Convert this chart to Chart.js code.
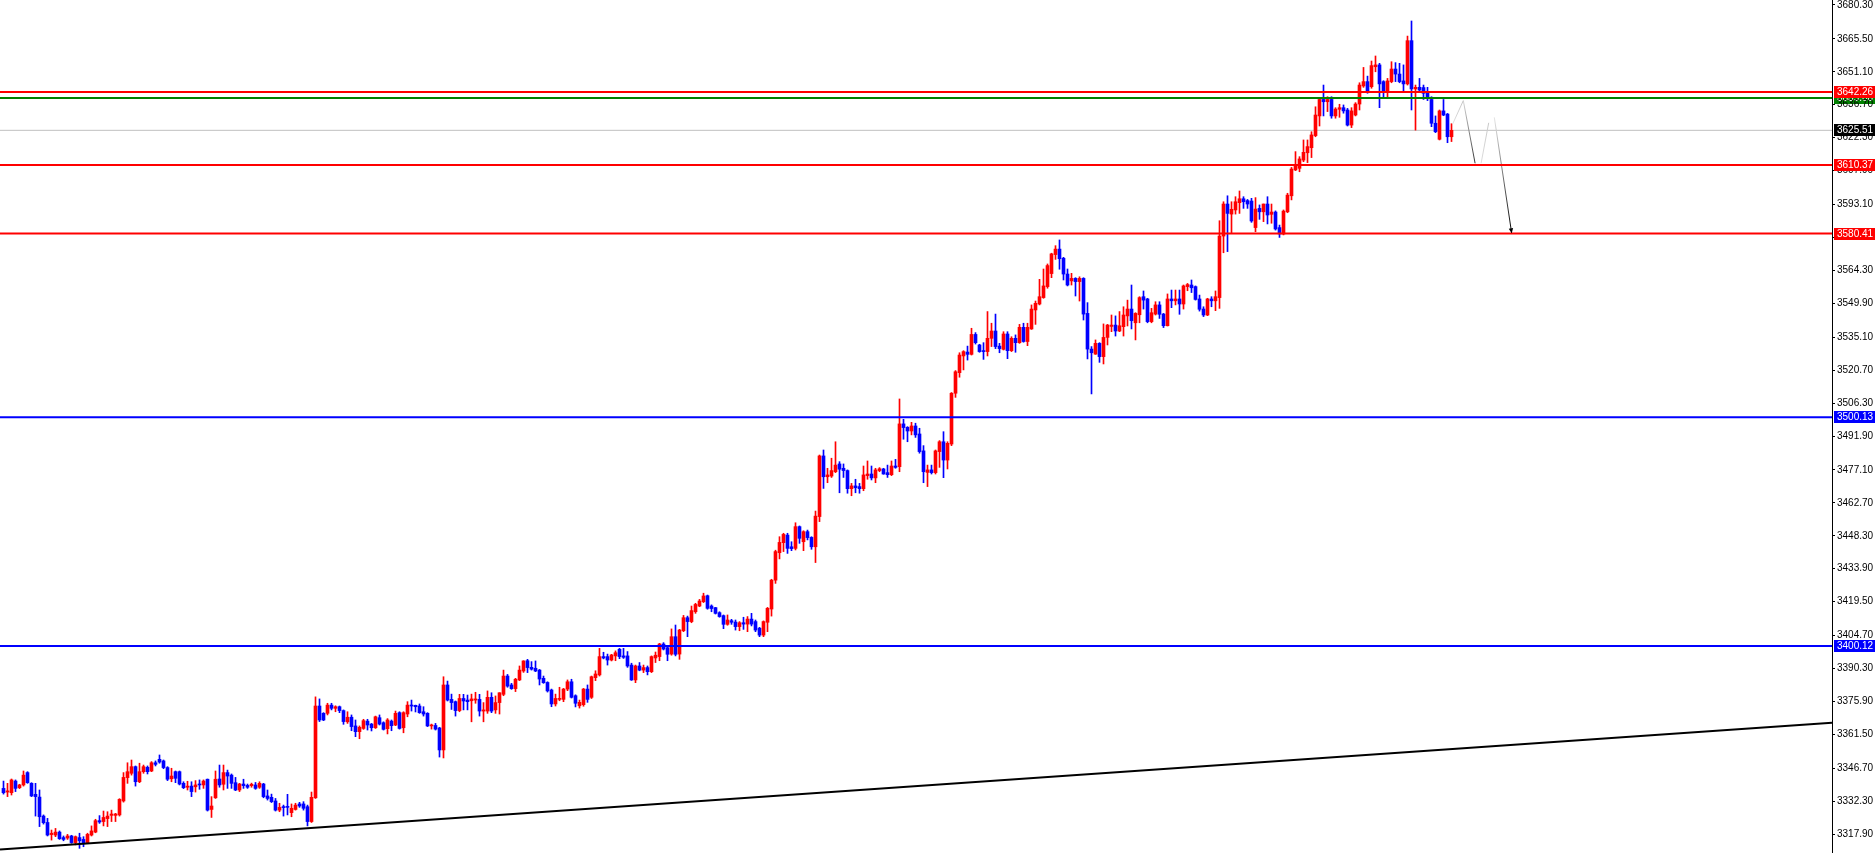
<!DOCTYPE html>
<html>
<head>
<meta charset="utf-8">
<title>Candles</title>
<style>
  html, body { margin: 0; padding: 0; background: #ffffff; }
  #wrap { width: 1875px; height: 853px; position: relative; }
</style>
<script src="https://cdn.jsdelivr.net/npm/chart.js@4.4.1/dist/chart.umd.min.js"></script>
</head>
<body>
<div id="wrap"><canvas id="chart"></canvas></div>
<script>
// candle data, one entry per bar (index 0 = leftmost)
const opens = [
  3337.9, 3336.3, 3336.0, 3341.1, 3338.2, 3339.4, 3344.8, 3340.1, 3335.3, 3334.1,
  3325.8, 3323.0, 3317.7, 3317.5, 3318.8, 3316.4, 3316.2, 3317.1, 3314.2, 3316.4,
  3315.6, 3314.2, 3317.5, 3318.8, 3323.8, 3323.4, 3324.7, 3326.1, 3326.1, 3326.3,
  3332.4, 3342.6, 3344.5, 3347.4, 3340.8, 3345.2, 3347.1, 3345.5, 3349.1, 3350.6,
  3349.9, 3347.0, 3342.1, 3345.2, 3345.2, 3340.1, 3338.4, 3338.9, 3338.6, 3339.8,
  3339.4, 3341.9, 3328.7, 3333.8, 3342.0, 3339.7, 3344.8, 3343.7, 3340.4, 3337.2,
  3339.8, 3339.2, 3339.1, 3339.4, 3338.4, 3339.8, 3334.6, 3334.0, 3332.4, 3328.4,
  3329.9, 3329.9, 3327.3, 3328.7, 3331.1, 3331.1, 3329.9, 3323.4, 3333.8, 3373.9,
  3370.7, 3370.7, 3374.3, 3372.9, 3373.6, 3371.9, 3367.0, 3369.0, 3365.2, 3362.7,
  3364.1, 3367.3, 3366.0, 3364.4, 3368.8, 3366.6, 3364.0, 3367.3, 3365.6, 3371.0,
  3364.4, 3370.4, 3374.3, 3374.2, 3373.9, 3371.4, 3370.7, 3365.2, 3365.4, 3364.3,
  3354.7, 3383.1, 3376.8, 3375.8, 3371.9, 3377.2, 3376.5, 3376.2, 3376.5, 3376.8,
  3371.7, 3371.7, 3377.7, 3372.2, 3375.4, 3379.0, 3387.0, 3383.1, 3381.5, 3385.3,
  3389.2, 3393.7, 3390.8, 3390.4, 3389.6, 3386.0, 3384.2, 3380.9, 3374.8, 3376.8,
  3376.8, 3381.3, 3384.5, 3378.4, 3374.0, 3374.5, 3381.3, 3377.7, 3386.3, 3387.5,
  3395.5, 3395.5, 3394.0, 3395.8, 3398.7, 3395.8, 3395.8, 3391.8, 3385.3, 3391.4,
  3389.6, 3390.7, 3388.9, 3394.9, 3395.5, 3401.0, 3399.4, 3396.6, 3404.2, 3396.6,
  3406.8, 3412.5, 3410.8, 3415.1, 3417.6, 3419.5, 3422.1, 3417.6, 3416.9, 3414.7,
  3413.4, 3409.6, 3411.2, 3410.6, 3408.6, 3410.3, 3409.7, 3411.9, 3410.8, 3407.9,
  3404.9, 3410.5, 3416.3, 3428.9, 3440.9, 3445.3, 3448.6, 3443.5, 3442.8, 3452.3,
  3445.7, 3450.1, 3447.6, 3443.5, 3456.7, 3483.2, 3474.1, 3474.4, 3476.3, 3479.7,
  3477.8, 3476.8, 3468.9, 3470.1, 3469.8, 3468.9, 3474.6, 3475.3, 3473.6, 3476.8,
  3477.5, 3475.9, 3475.0, 3478.8, 3478.5, 3497.2, 3495.7, 3494.1, 3496.3, 3492.8,
  3485.4, 3476.0, 3477.1, 3475.9, 3485.1, 3489.4, 3481.4, 3488.4, 3510.6, 3519.6,
  3526.9, 3528.6, 3527.6, 3536.3, 3531.7, 3529.2, 3528.8, 3534.6, 3537.8, 3531.2,
  3529.8, 3536.5, 3529.2, 3534.6, 3532.7, 3539.4, 3533.2, 3538.7, 3547.0, 3549.6,
  3552.4, 3557.2, 3562.9, 3571.2, 3573.6, 3569.6, 3562.7, 3559.7, 3560.8, 3559.4,
  3560.8, 3545.5, 3529.9, 3527.7, 3532.4, 3526.6, 3535.0, 3539.8, 3540.4, 3537.8,
  3539.7, 3544.4, 3547.4, 3541.4, 3544.9, 3552.8, 3551.8, 3541.9, 3545.2, 3549.2,
  3545.2, 3540.1, 3551.8, 3551.0, 3551.8, 3549.6, 3557.2, 3557.9, 3557.2, 3551.8,
  3547.4, 3544.8, 3551.8, 3551.0, 3552.4, 3579.3, 3593.3, 3588.9, 3590.7, 3593.9,
  3595.6, 3594.8, 3594.6, 3583.0, 3591.4, 3589.9, 3593.3, 3588.8, 3589.8, 3583.0,
  3580.2, 3589.9, 3596.9, 3608.2, 3608.9, 3612.5, 3615.7, 3617.9, 3623.2, 3631.8,
  3639.0, 3638.0, 3639.0, 3631.8, 3634.7, 3635.4, 3634.4, 3627.8, 3632.2, 3637.0,
  3644.9, 3646.8, 3644.6, 3653.3, 3654.1, 3646.8, 3642.7, 3646.8, 3652.3, 3650.1,
  3647.1, 3645.8, 3664.7, 3643.6, 3644.3, 3644.2, 3641.7, 3639.0, 3628.6, 3621.6,
  3634.0, 3632.6, 3622.7
];
const highs = [
  3341.1, 3340.1, 3342.0, 3341.6, 3339.7, 3345.5, 3345.2, 3340.4, 3340.1, 3337.2,
  3326.3, 3324.8, 3319.7, 3320.4, 3319.3, 3317.1, 3317.8, 3317.4, 3317.1, 3318.3,
  3316.8, 3318.3, 3321.5, 3324.4, 3326.0, 3328.0, 3327.7, 3328.4, 3327.0, 3333.4,
  3344.8, 3349.1, 3350.3, 3347.7, 3348.9, 3348.1, 3347.7, 3349.6, 3349.9, 3352.5,
  3350.3, 3347.4, 3346.7, 3345.5, 3345.5, 3340.8, 3341.0, 3340.8, 3341.3, 3341.6,
  3341.6, 3342.0, 3334.3, 3345.5, 3348.1, 3348.1, 3345.9, 3344.2, 3342.7, 3340.1,
  3341.9, 3339.8, 3340.2, 3340.5, 3340.8, 3340.1, 3337.2, 3335.4, 3333.5, 3331.4,
  3330.6, 3335.3, 3331.1, 3331.4, 3331.8, 3332.1, 3330.6, 3336.3, 3377.9, 3377.0,
  3371.0, 3375.1, 3375.1, 3374.0, 3373.9, 3372.2, 3371.4, 3370.0, 3367.8, 3365.2,
  3368.1, 3368.1, 3366.3, 3369.5, 3370.0, 3367.0, 3368.4, 3367.8, 3371.7, 3371.4,
  3371.4, 3375.8, 3376.5, 3374.3, 3374.8, 3373.6, 3371.0, 3366.0, 3366.3, 3364.6,
  3386.7, 3384.8, 3379.1, 3376.1, 3379.0, 3379.0, 3378.7, 3379.1, 3379.9, 3379.0,
  3375.4, 3380.5, 3379.7, 3378.3, 3379.7, 3389.6, 3387.7, 3383.8, 3386.0, 3391.4,
  3393.7, 3394.3, 3393.3, 3393.6, 3389.9, 3387.0, 3384.5, 3381.3, 3379.1, 3382.1,
  3381.6, 3385.3, 3385.6, 3378.8, 3376.5, 3381.6, 3383.1, 3387.0, 3389.3, 3399.1,
  3397.4, 3396.6, 3396.5, 3398.0, 3399.1, 3399.1, 3397.7, 3392.6, 3391.8, 3392.9,
  3391.8, 3391.4, 3395.8, 3397.5, 3401.3, 3401.6, 3399.8, 3407.6, 3409.3, 3407.4,
  3413.5, 3413.2, 3417.6, 3418.8, 3420.5, 3423.2, 3422.4, 3418.1, 3417.0, 3415.1,
  3413.7, 3413.7, 3411.8, 3411.5, 3410.8, 3412.7, 3413.0, 3414.4, 3411.5, 3408.3,
  3411.1, 3417.0, 3429.3, 3442.0, 3447.9, 3449.4, 3449.4, 3445.7, 3454.0, 3452.6,
  3450.5, 3450.8, 3447.9, 3459.1, 3483.6, 3485.8, 3477.8, 3482.2, 3489.4, 3480.7,
  3479.7, 3477.1, 3471.2, 3473.0, 3471.2, 3478.8, 3481.0, 3478.8, 3477.8, 3478.1,
  3477.8, 3479.2, 3481.0, 3481.7, 3508.1, 3499.2, 3496.0, 3497.9, 3497.5, 3495.3,
  3487.7, 3479.2, 3479.2, 3485.8, 3489.9, 3493.8, 3489.4, 3510.9, 3520.5, 3528.3,
  3529.2, 3531.2, 3539.0, 3537.1, 3532.0, 3532.7, 3546.3, 3541.2, 3545.2, 3532.4,
  3537.5, 3537.5, 3535.3, 3536.1, 3540.7, 3541.2, 3541.2, 3549.2, 3550.9, 3560.4,
  3564.9, 3567.1, 3571.8, 3575.1, 3577.6, 3570.0, 3564.9, 3563.0, 3561.1, 3561.5,
  3561.1, 3550.2, 3531.0, 3533.9, 3532.7, 3540.9, 3540.7, 3544.8, 3544.4, 3546.3,
  3548.4, 3551.3, 3557.9, 3545.8, 3552.8, 3555.3, 3552.1, 3547.7, 3550.6, 3550.6,
  3545.5, 3554.0, 3555.7, 3555.7, 3555.7, 3557.9, 3558.6, 3560.1, 3557.5, 3553.5,
  3548.4, 3552.1, 3552.8, 3555.3, 3586.0, 3594.3, 3596.9, 3594.3, 3596.5, 3599.0,
  3596.5, 3595.3, 3595.8, 3596.1, 3592.9, 3593.3, 3596.5, 3593.3, 3590.3, 3584.1,
  3590.7, 3598.0, 3609.3, 3616.2, 3614.0, 3621.3, 3621.3, 3624.9, 3635.8, 3639.5,
  3645.3, 3640.2, 3640.2, 3635.4, 3636.9, 3636.6, 3635.1, 3635.4, 3637.6, 3646.3,
  3653.0, 3649.2, 3655.8, 3658.0, 3654.8, 3647.2, 3648.2, 3655.5, 3655.1, 3654.8,
  3654.1, 3666.7, 3673.3, 3645.3, 3648.2, 3645.3, 3644.3, 3640.2, 3631.8, 3634.4,
  3639.0, 3632.9, 3628.4
];
const lows = [
  3335.4, 3334.3, 3335.0, 3336.5, 3337.8, 3338.9, 3340.1, 3334.3, 3325.8, 3321.2,
  3322.3, 3317.1, 3315.3, 3316.8, 3315.6, 3315.0, 3315.6, 3313.9, 3313.2, 3311.7,
  3312.4, 3313.9, 3317.1, 3318.5, 3322.6, 3321.5, 3321.2, 3323.4, 3323.4, 3325.8,
  3331.9, 3340.1, 3343.7, 3338.9, 3340.4, 3344.5, 3344.2, 3345.2, 3347.7, 3348.9,
  3346.5, 3341.3, 3340.8, 3340.4, 3339.4, 3337.8, 3337.2, 3334.3, 3336.3, 3337.5,
  3337.9, 3328.0, 3325.2, 3333.5, 3338.4, 3337.2, 3337.9, 3337.9, 3336.9, 3336.5,
  3337.9, 3337.9, 3338.4, 3337.5, 3337.9, 3333.8, 3332.8, 3331.7, 3328.0, 3327.7,
  3325.8, 3326.3, 3325.5, 3328.4, 3329.6, 3328.4, 3321.5, 3323.0, 3333.5, 3367.1,
  3367.5, 3370.0, 3372.2, 3371.4, 3371.0, 3365.9, 3366.3, 3363.1, 3360.5, 3359.6,
  3363.7, 3363.4, 3363.0, 3364.1, 3365.6, 3363.4, 3361.7, 3363.1, 3365.3, 3363.8,
  3362.2, 3369.2, 3371.7, 3371.3, 3370.7, 3369.5, 3364.9, 3363.8, 3363.4, 3351.6,
  3351.2, 3376.1, 3372.4, 3369.5, 3371.4, 3372.2, 3372.2, 3367.0, 3375.1, 3369.5,
  3367.0, 3370.7, 3371.0, 3370.7, 3370.4, 3378.4, 3382.1, 3381.2, 3380.2, 3385.0,
  3388.6, 3388.5, 3389.6, 3388.9, 3383.1, 3383.8, 3380.0, 3373.6, 3373.9, 3376.2,
  3375.8, 3380.6, 3377.4, 3373.5, 3373.0, 3373.8, 3375.5, 3377.2, 3385.0, 3387.0,
  3394.5, 3391.8, 3393.6, 3393.7, 3394.6, 3394.7, 3390.8, 3385.1, 3384.1, 3389.3,
  3388.5, 3387.5, 3388.5, 3392.9, 3393.7, 3398.4, 3393.7, 3396.1, 3395.8, 3394.3,
  3406.4, 3404.2, 3410.3, 3414.4, 3417.3, 3419.1, 3416.2, 3415.1, 3414.1, 3412.7,
  3407.7, 3409.2, 3409.6, 3407.1, 3406.8, 3407.4, 3406.4, 3408.9, 3406.4, 3404.2,
  3404.2, 3406.4, 3413.2, 3427.5, 3438.2, 3441.4, 3440.6, 3441.8, 3442.1, 3445.0,
  3441.8, 3446.5, 3442.4, 3436.6, 3454.5, 3469.0, 3471.5, 3473.8, 3475.9, 3467.1,
  3473.8, 3466.9, 3465.8, 3467.1, 3466.9, 3468.0, 3473.0, 3472.7, 3471.5, 3476.3,
  3475.2, 3473.8, 3474.6, 3477.8, 3476.3, 3490.5, 3489.4, 3492.4, 3491.3, 3484.4,
  3471.5, 3469.8, 3475.3, 3475.3, 3478.2, 3473.7, 3477.5, 3487.7, 3508.8, 3517.6,
  3520.8, 3525.1, 3527.3, 3532.1, 3528.5, 3525.4, 3526.9, 3531.0, 3530.1, 3528.3,
  3529.5, 3525.7, 3528.8, 3528.5, 3532.4, 3532.9, 3531.4, 3538.5, 3540.7, 3549.2,
  3552.1, 3556.5, 3561.1, 3569.1, 3564.8, 3560.1, 3557.5, 3557.9, 3553.1, 3550.9,
  3542.6, 3525.6, 3510.3, 3527.6, 3524.1, 3523.4, 3531.7, 3537.5, 3535.6, 3537.5,
  3535.6, 3540.0, 3538.7, 3533.9, 3541.4, 3547.4, 3541.4, 3541.4, 3544.8, 3543.3,
  3539.3, 3540.0, 3548.0, 3549.2, 3545.1, 3547.4, 3555.4, 3554.6, 3551.3, 3546.5,
  3544.1, 3544.5, 3548.4, 3546.7, 3547.7, 3572.0, 3572.5, 3580.8, 3588.9, 3589.2,
  3591.4, 3591.4, 3585.3, 3581.2, 3586.6, 3585.6, 3584.6, 3584.9, 3581.9, 3578.7,
  3579.8, 3589.5, 3595.1, 3607.9, 3607.4, 3611.8, 3611.4, 3613.6, 3622.7, 3627.4,
  3631.8, 3633.7, 3630.8, 3630.8, 3631.2, 3633.0, 3627.4, 3626.7, 3631.8, 3634.4,
  3644.3, 3641.7, 3643.9, 3651.1, 3635.4, 3640.2, 3640.2, 3646.3, 3646.8, 3646.3,
  3642.4, 3645.3, 3634.4, 3625.6, 3642.4, 3639.0, 3638.5, 3627.1, 3624.5, 3621.3,
  3631.9, 3620.1, 3620.6
];
const closes = [
  3336.0, 3336.8, 3341.6, 3337.9, 3339.4, 3343.7, 3340.4, 3334.6, 3334.3, 3325.5,
  3322.9, 3317.5, 3318.3, 3318.8, 3315.9, 3315.6, 3317.1, 3314.2, 3316.8, 3315.0,
  3313.9, 3317.8, 3319.3, 3323.8, 3323.2, 3325.2, 3325.8, 3326.7, 3326.7, 3333.1,
  3342.7, 3345.2, 3347.4, 3340.8, 3345.2, 3347.4, 3345.2, 3349.1, 3348.4, 3349.4,
  3347.0, 3341.9, 3343.3, 3342.3, 3339.8, 3338.2, 3338.9, 3336.5, 3339.4, 3339.4,
  3341.1, 3328.4, 3330.2, 3341.9, 3339.4, 3344.8, 3343.3, 3340.1, 3337.2, 3339.8,
  3339.1, 3338.4, 3339.7, 3337.9, 3340.1, 3334.3, 3333.5, 3332.1, 3328.4, 3329.6,
  3329.5, 3329.6, 3329.2, 3330.6, 3330.2, 3329.2, 3323.4, 3334.0, 3373.9, 3367.8,
  3367.8, 3374.3, 3372.9, 3373.6, 3371.9, 3367.1, 3369.0, 3364.9, 3362.7, 3364.6,
  3367.5, 3365.6, 3364.4, 3369.2, 3366.0, 3363.7, 3367.8, 3365.3, 3370.7, 3364.1,
  3371.0, 3374.3, 3373.9, 3373.6, 3371.0, 3370.4, 3365.2, 3365.6, 3363.8, 3354.7,
  3383.1, 3376.5, 3375.4, 3371.9, 3377.2, 3376.1, 3375.8, 3377.0, 3377.0, 3371.7,
  3372.2, 3377.7, 3371.7, 3375.4, 3379.7, 3387.0, 3382.6, 3381.5, 3385.6, 3389.6,
  3393.6, 3390.7, 3390.0, 3389.2, 3385.7, 3384.1, 3380.5, 3374.8, 3377.2, 3377.2,
  3381.3, 3384.5, 3377.7, 3375.1, 3375.5, 3381.3, 3376.8, 3386.7, 3387.9, 3395.5,
  3394.9, 3394.0, 3396.2, 3397.2, 3395.5, 3395.2, 3391.4, 3385.3, 3391.4, 3389.6,
  3390.7, 3388.9, 3395.5, 3396.1, 3401.0, 3398.8, 3396.5, 3404.2, 3396.5, 3407.1,
  3412.5, 3410.8, 3415.6, 3418.3, 3419.8, 3422.0, 3416.6, 3416.5, 3414.4, 3413.0,
  3409.6, 3411.5, 3410.5, 3408.6, 3410.3, 3409.7, 3411.9, 3409.7, 3407.1, 3404.9,
  3410.8, 3416.6, 3428.9, 3441.4, 3445.4, 3448.9, 3442.8, 3442.7, 3452.3, 3447.2,
  3450.1, 3447.5, 3443.5, 3456.9, 3483.2, 3474.1, 3474.9, 3476.8, 3479.2, 3477.4,
  3476.8, 3468.9, 3470.1, 3469.3, 3468.9, 3474.9, 3475.3, 3473.6, 3477.1, 3477.6,
  3475.3, 3475.0, 3478.8, 3478.2, 3497.2, 3495.6, 3494.1, 3496.3, 3492.4, 3485.1,
  3476.3, 3477.1, 3475.9, 3485.4, 3489.4, 3481.4, 3488.7, 3510.6, 3520.0, 3527.3,
  3528.8, 3527.6, 3536.3, 3532.7, 3528.8, 3528.8, 3534.6, 3537.8, 3531.0, 3530.1,
  3536.5, 3529.2, 3534.6, 3532.7, 3539.4, 3533.2, 3539.4, 3547.4, 3549.9, 3552.8,
  3557.5, 3566.4, 3571.5, 3573.6, 3569.4, 3562.7, 3557.9, 3560.8, 3559.4, 3560.8,
  3545.2, 3529.9, 3528.3, 3532.4, 3526.6, 3535.0, 3540.4, 3540.4, 3537.8, 3540.1,
  3544.8, 3547.4, 3542.3, 3545.5, 3552.4, 3551.3, 3541.9, 3545.8, 3549.2, 3545.1,
  3540.1, 3551.8, 3551.0, 3551.8, 3549.6, 3557.5, 3558.1, 3556.7, 3551.6, 3547.3,
  3544.8, 3551.8, 3551.0, 3552.8, 3579.3, 3593.3, 3589.2, 3591.0, 3594.3, 3595.6,
  3594.3, 3593.3, 3585.9, 3591.1, 3589.9, 3593.3, 3588.5, 3589.8, 3582.4, 3580.2,
  3590.2, 3597.2, 3608.6, 3610.4, 3613.0, 3615.9, 3618.4, 3623.5, 3632.2, 3639.0,
  3638.0, 3639.0, 3631.8, 3634.8, 3635.4, 3634.0, 3627.8, 3634.0, 3637.0, 3645.3,
  3646.8, 3642.0, 3653.8, 3654.1, 3645.8, 3642.7, 3647.1, 3652.3, 3650.1, 3646.8,
  3645.8, 3664.7, 3643.6, 3644.3, 3643.1, 3641.7, 3639.9, 3628.6, 3624.9, 3634.0,
  3632.2, 3622.7, 3625.5
];

// price scale labels shown on the right
const yTickValues = [
  3680.30, 3665.50, 3651.10, 3636.70, 3622.30, 3607.90, 3593.10, 3578.70, 3564.30,
  3549.90, 3535.10, 3520.70, 3506.30, 3491.90, 3477.10, 3462.70, 3448.30, 3433.90,
  3419.50, 3404.70, 3390.30, 3375.90, 3361.50, 3346.70, 3332.30, 3317.90
];

// horizontal levels
const redLevels = [3642.26, 3610.37, 3580.41];
const blueLevels = [3500.13, 3400.12];
const greenLevel = 3639.60;
const bidPrice = 3625.51;

// trend line end points (bar index, price)
const trendIdx = [-0.875, 457.125];
const trendVals = [3311.2, 3366.6];

// projected zig-zag path (bar index, price)
const pathIdx = [362.3, 364.95, 367.9, 369.4, 371.3, 372.7, 377.05];
const pathVals = [3628.3, 3638.5, 3611.1, 3611.1, 3628.8, 3631.2, 3580.5];

// visible window
const xMin = -0.875, xMax = 457.125;
const yMin = 3309.66, yMax = 3682.47;

const UP = '#ff0000', DOWN = '#0000ff';
const axisFamily = '"Liberation Sans", Arial, sans-serif';
const axisSize = 10;

const candleIdx = opens.map((_, i) => i);
const candleColors = candleIdx.map(i => closes[i] >= opens[i] ? UP : DOWN);

function hLine(value, color, width, order) {
  return {
    type: 'line',
    data: [{ x: xMin, y: value }, { x: xMax, y: value }],
    borderColor: color,
    borderWidth: width,
    pointRadius: 0,
    fill: false,
    order: order
  };
}

function pathSegment(a, b, c0, c1) {
  return {
    type: 'line',
    data: [{ x: pathIdx[a], y: pathVals[a] }, { x: pathIdx[b], y: pathVals[b] }],
    borderWidth: 1,
    pointRadius: 0,
    fill: false,
    order: 0,
    borderColor: (ctx) => {
      const chart = ctx.chart;
      const xs = chart.scales.x, ys = chart.scales.y;
      if (!xs || !ys) return c1;
      const x0 = xs.getPixelForValue(pathIdx[a]), y0 = ys.getPixelForValue(pathVals[a]);
      const x1 = xs.getPixelForValue(pathIdx[b]), y1 = ys.getPixelForValue(pathVals[b]);
      if (![x0, y0, x1, y1].every(Number.isFinite)) return c1;
      const g = chart.ctx.createLinearGradient(x0, y0, x1, y1);
      g.addColorStop(0, c0);
      g.addColorStop(1, c1);
      return g;
    }
  };
}

// coloured price boxes on the price scale
function drawTag(chart, value, color) {
  const { ctx, scales: { y } } = chart;
  const py = Math.round(y.getPixelForValue(value));
  ctx.save();
  ctx.fillStyle = color;
  ctx.fillRect(y.left + 2, py - 6, chart.width - y.left - 2, 12);
  ctx.fillStyle = '#ffffff';
  ctx.font = axisSize + 'px ' + axisFamily;
  ctx.textBaseline = 'middle';
  ctx.textAlign = 'left';
  ctx.fillText(value.toFixed(2), y.left + 5, py + 0.5);
  ctx.restore();
}

const priceTags = {
  id: 'priceTags',
  beforeDraw(chart) {
    drawTag(chart, greenLevel, '#008000');
  },
  afterDraw(chart) {
    drawTag(chart, bidPrice, '#000000');
    redLevels.forEach(v => drawTag(chart, v, '#ff0000'));
    blueLevels.forEach(v => drawTag(chart, v, '#0000ff'));
  }
};

// small arrow head at the end of the projection
const arrowHead = {
  id: 'arrowHead',
  afterDatasetsDraw(chart) {
    const { ctx, scales: { x, y } } = chart;
    const n = pathIdx.length;
    const x0 = x.getPixelForValue(pathIdx[n - 2]), y0 = y.getPixelForValue(pathVals[n - 2]);
    const x1 = x.getPixelForValue(pathIdx[n - 1]), y1 = y.getPixelForValue(pathVals[n - 1]);
    const a = Math.atan2(y1 - y0, x1 - x0);
    ctx.save();
    ctx.fillStyle = '#000000';
    ctx.beginPath();
    ctx.moveTo(x1, y1);
    ctx.lineTo(x1 - 5 * Math.cos(a) + 2.2 * Math.sin(a), y1 - 5 * Math.sin(a) - 2.2 * Math.cos(a));
    ctx.lineTo(x1 - 5 * Math.cos(a) - 2.2 * Math.sin(a), y1 - 5 * Math.sin(a) + 2.2 * Math.cos(a));
    ctx.closePath();
    ctx.fill();
    ctx.restore();
  }
};

const datasets = [
  {
    type: 'bar',
    label: 'wicks',
    data: candleIdx.map(i => ({ x: i, y: [lows[i], highs[i]] })),
    backgroundColor: candleColors,
    borderWidth: 0,
    barThickness: 1,
    grouped: false,
    order: 3
  },
  {
    type: 'bar',
    label: 'bodies',
    data: candleIdx.map(i => ({ x: i, y: [opens[i], closes[i]] })),
    backgroundColor: candleColors,
    borderWidth: 0,
    barThickness: 3,
    minBarLength: 1,
    grouped: false,
    order: 2
  },
  hLine(bidPrice, '#c0c0c0', 1, 4),
  hLine(greenLevel, '#008000', 2, 0),
  ...redLevels.map(v => hLine(v, '#ff0000', 2, 0)),
  ...blueLevels.map(v => hLine(v, '#0000ff', 2, 0)),
  {
    type: 'line',
    data: trendIdx.map((t, i) => ({ x: t, y: trendVals[i] })),
    borderColor: '#000000',
    borderWidth: 2,
    pointRadius: 0,
    fill: false,
    order: 0
  },
  pathSegment(0, 1, '#e0e0e0', '#c4c4c4'),
  pathSegment(1, 2, '#d8d8d8', '#333333'),
  pathSegment(3, 4, '#dddddd', '#c8c8c8'),
  pathSegment(5, 6, '#e6e6e6', '#000000')
];

new Chart(document.getElementById('chart'), {
  type: 'bar',
  data: { datasets: datasets },
  plugins: [priceTags, arrowHead],
  options: {
    responsive: true,
    maintainAspectRatio: false,
    animation: false,
    devicePixelRatio: 1,
    layout: { padding: 0 },
    plugins: {
      legend: { display: false },
      tooltip: { enabled: false }
    },
    scales: {
      x: {
        type: 'linear',
        min: xMin,
        max: xMax,
        offset: false,
        display: false,
        grid: { offset: false }
      },
      y: {
        type: 'linear',
        position: 'right',
        min: yMin,
        max: yMax,
        afterBuildTicks: (scale) => {
          scale.ticks = yTickValues.map(v => ({ value: v }));
        },
        afterFit: (scale) => {
          scale.width = 43;
          scale.paddingTop = 0;
          scale.paddingBottom = 0;
        },
        ticks: {
          autoSkip: false,
          color: '#000000',
          padding: 2,
          font: { family: axisFamily, size: axisSize },
          callback: (v) => Number(v).toFixed(2)
        },
        grid: {
          drawOnChartArea: false,
          drawTicks: true,
          tickLength: 3,
          color: '#000000'
        },
        border: { display: true, color: '#000000', width: 1 }
      }
    }
  }
});
</script>
</body>
</html>
